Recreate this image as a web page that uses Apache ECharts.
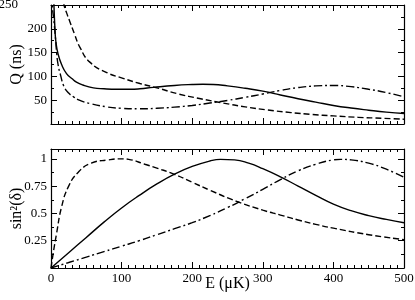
<!DOCTYPE html>
<html><head><meta charset="utf-8">
<script src="https://cdn.jsdelivr.net/npm/echarts@6/dist/echarts.min.js"></script>
<style>html,body{margin:0;padding:0;background:#fff}#c{width:415px;height:300px}</style>
</head><body><div id="c"></div>
<script>
// ---- Data ----
const X_TICKS = [0, 100, 200, 300, 400, 500];
const Q_TICKS = [50, 100, 150, 200, 250];
const S_TICKS = [0.25, 0.5, 0.75, 1];

// Top panel: Q (ns) vs E (µK)
const Q_SOLID_E = [3, 4.2, 5.7, 7, 10, 15, 22, 30, 36, 45, 60, 75, 93, 112, 126, 145, 175, 200, 215, 230, 250, 275, 300, 325, 350, 375, 400, 425, 450, 475, 500];
const Q_SOLID   = [330, 250, 196, 172, 147, 125, 106, 95, 88, 82, 76, 74, 73, 73, 74, 77, 81, 83, 83.5, 83, 80, 75, 69, 61, 53, 46, 39, 33.5, 29, 25, 22];
const Q_DASH_E  = [16, 18.5, 22, 27, 33, 41, 55, 79, 102, 126, 150, 178, 212, 244, 275, 306, 340, 369, 400, 435, 470, 500];
const Q_DASH    = [275, 250, 234, 214, 190, 161, 130, 108, 96, 85, 76, 64, 53, 44, 36, 29.5, 24, 20, 17, 14, 12, 10];
const Q_DDOT_E  = [1, 2, 4, 6, 8, 10, 14, 18, 25, 32, 40, 55, 79, 100, 125, 150, 175, 200, 225, 250, 275, 300, 325, 350, 375, 400, 425, 450, 475, 500];
const Q_DDOT    = [340, 250, 218, 187, 150, 125, 100, 80, 65, 57, 50, 43, 36, 33, 32, 33, 35.5, 39, 44, 49.5, 56, 63, 70.5, 76.5, 80, 81, 78.5, 73, 66, 57];

// Bottom panel: sin^2(delta) vs E (µK)
const S_SOLID_E = [0, 25, 50, 75, 100, 125, 150, 175, 200, 225, 240, 260, 280, 300, 325, 350, 375, 400, 425, 450, 475, 500];
const S_SOLID   = [0, 0.14, 0.28, 0.42, 0.55, 0.665, 0.77, 0.86, 0.93, 0.98, 0.995, 0.99, 0.96, 0.91, 0.835, 0.75, 0.665, 0.585, 0.525, 0.48, 0.445, 0.415];
const S_DASH_E  = [0, 3, 8, 15, 25, 39, 57, 81, 100, 110, 133, 150, 174, 200, 226, 263, 300, 325, 350, 375, 400, 450, 500];
const S_DASH    = [0, 0.13, 0.32, 0.56, 0.75, 0.88, 0.96, 0.99, 1.0, 0.995, 0.95, 0.915, 0.86, 0.785, 0.71, 0.61, 0.53, 0.485, 0.44, 0.40, 0.365, 0.305, 0.26];
const S_DDOT_E  = [0, 25, 50, 75, 100, 125, 150, 175, 200, 225, 250, 275, 300, 325, 350, 375, 400, 410, 425, 450, 475, 500];
const S_DDOT    = [0, 0.05, 0.1, 0.15, 0.2, 0.25, 0.305, 0.36, 0.415, 0.48, 0.553, 0.635, 0.72, 0.81, 0.89, 0.95, 0.99, 0.995, 0.99, 0.96, 0.905, 0.83];

// ---- Chart ----
const zip = (xs, ys) => xs.map((x, i) => [x, ys[i]]);
const FONT = 'Liberation Serif';
const AX = '#000';
const lineStyleAxis = { color: AX, width: 1.2 };

function xAxisPair(g, showLabels) {
  const base = {
    type: 'value', gridIndex: g, min: 0, max: 500, interval: 100,
    axisLine: { show: true, onZero: false, lineStyle: lineStyleAxis },
    axisTick: { show: true, inside: true, length: 6, lineStyle: { color: AX, width: 1 } },
    minorTick: { show: true, splitNumber: 10, length: 3, lineStyle: { color: AX, width: 1 } },
    splitLine: { show: false }, minorSplitLine: { show: false }
  };
  const bottom = Object.assign({}, base, {
    position: 'bottom',
    axisLabel: { show: showLabels, color: '#000', fontFamily: FONT, fontSize: 13, margin: 4,
      formatter: v => X_TICKS.indexOf(v) >= 0 ? String(v) : '' }
  });
  if (showLabels) {
    Object.assign(bottom, { name: 'E (μK)', nameLocation: 'middle', nameGap: 8, nameMoveOverlap: false,
      nameTextStyle: { color: '#000', fontFamily: FONT, fontSize: 16, verticalAlign: 'top' } });
  }
  const top = Object.assign({}, base, { position: 'top', axisLabel: { show: false } });
  return [bottom, top];
}

function yAxisPair(g, min, max, interval, ticks, name, labelFmt) {
  const base = {
    type: 'value', gridIndex: g, min: min, max: max, interval: interval,
    axisLine: { show: true, onZero: false, lineStyle: lineStyleAxis },
    axisTick: { show: true, inside: true, length: 6, lineStyle: { color: AX, width: 1 } },
    minorTick: { show: true, splitNumber: 2, length: 3, lineStyle: { color: AX, width: 1 } },
    splitLine: { show: false }, minorSplitLine: { show: false }
  };
  const left = Object.assign({}, base, {
    position: 'left',
    axisLabel: { show: true, color: '#000', fontFamily: FONT, fontSize: 13, margin: 4, showMaxLabel: true,
      formatter: v => { const t = ticks.find(tt => Math.abs(tt - v) < 1e-9); return t === undefined ? '' : labelFmt(t); },
      rich: { far: { fontFamily: FONT, fontSize: 13, color: '#000', padding: [0, 29, 0, 0] } } },
    name: name, nameLocation: 'middle', nameGap: 26, nameMoveOverlap: false,
    nameTextStyle: { color: '#000', fontFamily: FONT, fontSize: 16 }
  });
  const right = Object.assign({}, base, { position: 'right', axisLabel: { show: false } });
  return [left, right];
}

function ser(xi, yi, xs, ys, type) {
  return {
    type: 'line', xAxisIndex: xi, yAxisIndex: yi, data: zip(xs, ys),
    showSymbol: false, symbol: 'none', smooth: 0.5, clip: true,
    lineStyle: { color: '#000', width: 1.4, type: type }, silent: true
  };
}

const chart = echarts.init(document.getElementById('c'), null, { renderer: 'canvas' });
const xa = [...xAxisPair(0, false), ...xAxisPair(1, true)];
const ya = [
  ...yAxisPair(0, 0, 250, 50, Q_TICKS, 'Q (ns)', t => t === 250 ? '{far|250}' : String(t)),
  ...yAxisPair(1, 0, 1.09, 0.25, S_TICKS, 'sin²(δ)', t => String(t))
];
chart.setOption({
  animation: false,
  backgroundColor: '#fff',
  grid: [
    { left: 51, right: 11, top: 5, height: 119, containLabel: false, outerBoundsMode: 'none' },
    { left: 51, right: 11, top: 149, height: 119, containLabel: false, outerBoundsMode: 'none' }
  ],
  xAxis: xa,
  yAxis: ya,
  series: [
    ser(0, 0, Q_SOLID_E, Q_SOLID, 'solid'),
    ser(0, 0, Q_DASH_E, Q_DASH, [6, 3]),
    ser(0, 0, Q_DDOT_E, Q_DDOT, [8, 3, 2, 3]),
    ser(2, 2, S_SOLID_E, S_SOLID, 'solid'),
    ser(2, 2, S_DASH_E, S_DASH, [6, 3]),
    ser(2, 2, S_DDOT_E, S_DDOT, [8, 3, 2, 3])
  ]
});
</script></body></html>
